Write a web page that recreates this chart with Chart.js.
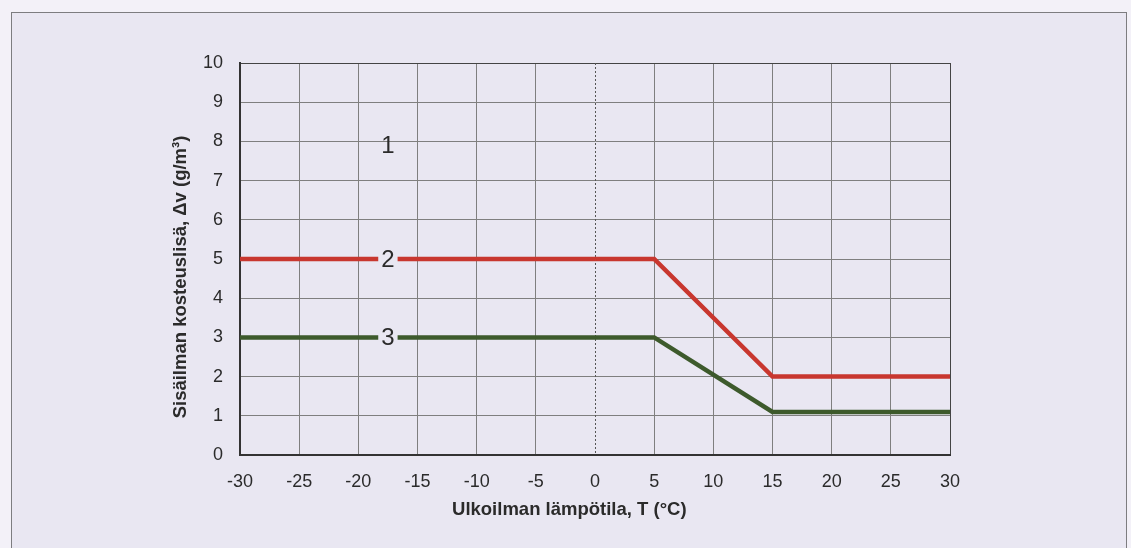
<!DOCTYPE html>
<html>
<head>
<meta charset="utf-8">
<script src="https://cdn.jsdelivr.net/npm/chart.js@4.4.0/dist/chart.umd.min.js"></script>
<style>
  html, body { margin: 0; padding: 0; background: #f3f1f8; }
  #frame {
    position: absolute; left: 11px; top: 12px; width: 1114px; height: 545px;
    border: 1px solid #7d7d80; background: #e9e7f2;
  }
  #chart { position: absolute; left: 0; top: 0; }
</style>
</head>
<body>
<div id="frame"></div>
<canvas id="chart" width="1131" height="548"></canvas>
<script>
// outdoor temperature (°C) break points
var temps = [-30, 5, 15, 30];
// moisture excess curves (g/m3)
var curve2 = [5, 5, 2, 2];
var curve3 = [3, 3, 1.1, 1.1];
// curve number labels
var curveNames = ["1", "2", "3"];
var curveNameX = [-17.5, -17.5, -17.5];
var curveNameY = [7.9, 5, 3];

var bg = "#e9e7f2";
var textColor = "#2b2b2b";
var font = "'Liberation Sans', Arial, sans-serif";
var pad = "\u00a0\u00a0\u00a0\u00a0\u00a0\u00a0\u00a0\u00a0\u00a0\u00a0";

function toPoints(xs, ys) {
    return xs.map(function(x, i) { return {x: x, y: ys[i]}; });
}

var extras = {
    id: "extras",
    beforeDatasetsDraw: function(chart) {
        var c = chart.ctx, xs = chart.scales.x, area = chart.chartArea;
        var px = Math.round(xs.getPixelForValue(0)) + 0.5;
        c.save();
        c.strokeStyle = "#555";
        c.lineWidth = 1;
        c.setLineDash([2, 2]);
        c.beginPath();
        c.moveTo(px, area.top);
        c.lineTo(px, area.bottom);
        c.stroke();
        c.restore();
    },
    afterDatasetsDraw: function(chart) {
        var c = chart.ctx, xs = chart.scales.x, ys = chart.scales.y;
        c.save();
        c.font = "24px " + font;
        c.textAlign = "center";
        c.textBaseline = "middle";
        curveNames.forEach(function(name, i) {
            var px = xs.getPixelForValue(curveNameX[i]);
            var py = ys.getPixelForValue(curveNameY[i]);
            var w = c.measureText(name).width + 6;
            if (i > 0) {
                c.fillStyle = bg;
                c.fillRect(px - w / 2, py - 4, w, 8);
            }
            c.fillStyle = textColor;
            c.fillText(name, px, py + 1);
        });
        c.restore();
    }
};

new Chart(document.getElementById("chart").getContext("2d"), {
    type: "line",
    data: {
        datasets: [{
            data: toPoints(temps, curve2),
            borderColor: "#c8372f",
            borderWidth: 4.5,
            pointRadius: 0,
            tension: 0
        }, {
            data: toPoints(temps, curve3),
            borderColor: "#3d5a2c",
            borderWidth: 4.5,
            pointRadius: 0,
            tension: 0
        }]
    },
    options: {
        responsive: false,
        animation: false,
        devicePixelRatio: 1,
        layout: { padding: { left: 170, top: 63, right: 181, bottom: 27 } },
        plugins: { legend: { display: false }, tooltip: { enabled: false } },
        scales: {
            x: {
                type: "linear",
                min: -30, max: 30,
                ticks: { stepSize: 5, padding: 16, color: textColor, font: { family: font, size: 18 } },
                grid: {
                    drawTicks: false,
                    color: function(ctx) {
                        if (ctx.tick && ctx.tick.value === 0) return "rgba(0,0,0,0)";
                        if (ctx.tick && ctx.tick.value === 30) return "#444";
                        return "#7f7f7f";
                    }
                },
                border: { color: "#333", width: 2 },
                title: {
                    display: true,
                    text: "Ulkoilman lämpötila, T (°C)" + pad,
                    color: textColor,
                    padding: { top: 7, bottom: 0 },
                    font: { family: font, size: 18.5, weight: "bold" }
                },
                afterFit: function(s) { s.height = 66; }
            },
            y: {
                min: 0, max: 10,
                ticks: { stepSize: 1, padding: 17, color: textColor, font: { family: font, size: 18 } },
                grid: {
                    drawTicks: false,
                    color: function(ctx) {
                        if (ctx.tick && ctx.tick.value === 10) return "#444";
                        return "#7f7f7f";
                    }
                },
                border: { color: "#333", width: 2 },
                title: {
                    display: true,
                    text: "Sisäilman kosteuslisä, Δv (g/m³)\u00a0\u00a0\u00a0\u00a0\u00a0\u00a0\u00a0",
                    color: textColor,
                    padding: { top: 0, bottom: 0 },
                    font: { family: font, size: 18.5, weight: "bold" }
                },
                afterFit: function(s) { s.width = 70; }
            }
        }
    },
    plugins: [extras]
});
</script>
</body>
</html>
